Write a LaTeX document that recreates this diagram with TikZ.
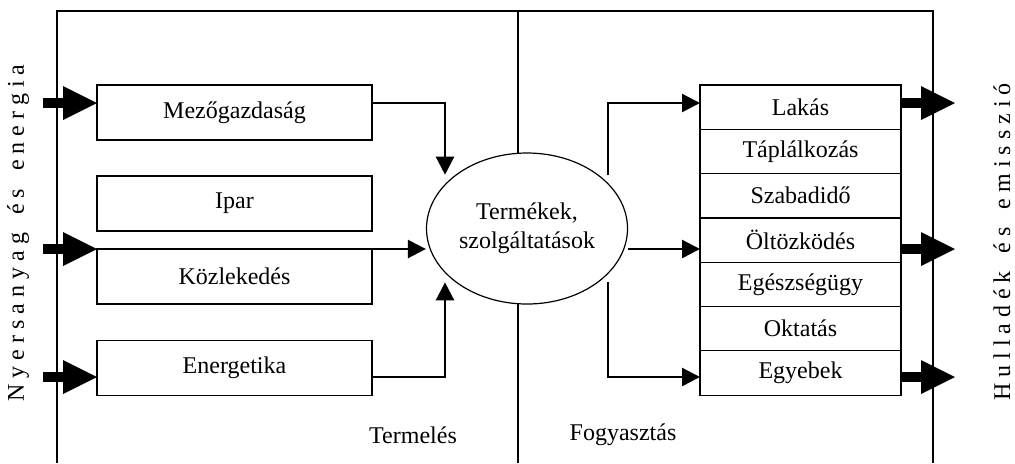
\documentclass[tikz,border=0pt]{standalone}
\usepackage{fontspec}
\setmainfont{Liberation Serif}
\newfontfamily\spacedfont[LetterSpace=25,WordSpace=1.5]{Liberation Serif}
\usetikzlibrary{positioning,arrows.meta,shapes.geometric}

\begin{document}
\begin{tikzpicture}[
    x=0.5pt, y=-0.5pt,
    font=\fontsize{12}{14.5}\selectfont,
    sector/.style={draw, line width=0.6pt, outer sep=0pt, inner sep=0pt, minimum width=137.5pt, minimum height=27.5pt},
    need/.style={draw, line width=0.6pt, outer sep=0pt, inner sep=0pt, minimum width=100.5pt, minimum height=22.15pt},
    flow/.style={line width=1.2pt, -{Triangle[length=9pt,width=9pt]}},
    bulk/.style={line width=5pt, -{Triangle[length=17pt,width=17pt,line width=0pt]}},
    side/.style={rotate=90, font=\fontsize{12}{14.5}\spacedfont}
]
\useasboundingbox (0,0) rectangle (1015,463);

% frame and divider
\draw[line width=0.7pt] (57,463) |- (933,11) -- (933,463);
\draw[line width=0.6pt] (518,11) -- (518,463);

% flow levels and lanes
\coordinate (r1) at (0,103);
\coordinate (r2) at (0,249);
\coordinate (r3) at (0,377);
\coordinate (src) at (43,0);
\coordinate (snk) at (955,0);
\coordinate (c1) at (445,0);
\coordinate (c2) at (608,0);

% production side
\node[sector] (mezo)  at (234.5,112.5) {Mezőgazdaság};
\node[sector] (ipar)  at (234.5,203.5) {Ipar};
\node[sector] (kozl)  at (234.5,276.5) {Közlekedés};
\node[sector] (energ) at (234.5,368)   {Energetika};

\node[draw, ellipse, fill=white, line width=0.6pt, inner sep=0pt,
      minimum width=100.5pt, minimum height=75.5pt, align=center]
      (prod) at (527,228.5) {Termékek,\\szolgáltatások};

% consumption side
\node[need] (lakas) at (800.5,107.15) {Lakás};
\node[need, below=0pt of lakas]  (taplal) {Táplálkozás};
\node[need, below=0pt of taplal] (szabad) {Szabadidő};
\node[need, below=0pt of szabad] (oltoz)  {Öltözködés};
\node[need, below=0pt of oltoz]  (egesz)  {Egészségügy};
\node[need, below=0pt of egesz]  (oktat)  {Oktatás};
\node[need, below=0pt of oktat]  (egyeb)  {Egyebek};

% inputs
\draw[bulk] (src |- r1) -- (mezo.west |- r1);
\draw[bulk] (src |- r2) -- (kozl.west |- r2);
\draw[bulk] (src |- r3) -- (energ.west |- r3);

% into products
\draw[flow] (mezo.east |- r1) -| (c1 |- prod.north west);
\draw[flow] (kozl.east |- r2) -- (prod.west |- r2);
\draw[flow] (energ.east |- r3) -| (c1 |- prod.south west);

% out of products
\draw[flow] (c2 |- prod.north east) |- (lakas.west |- r1);
\draw[flow] (prod.east |- r2) -- (oltoz.west |- r2);
\draw[flow] (c2 |- prod.south east) |- (egyeb.west |- r3);

% outputs
\draw[bulk] (lakas.east |- r1) -- (snk |- r1);
\draw[bulk] (oltoz.east |- r2) -- (snk |- r2);
\draw[bulk] (egyeb.east |- r3) -- (snk |- r3);

% labels
\node (termel) at (413,435) {Termelés};
\node (fogy)   at (623,435) {Fogyasztás};
\node[side] (nyers) at (18,233)   {Nyersanyag és energia};
\node[side] (hull)  at (1002,242) {Hulladék és emisszió};

\end{tikzpicture}
\end{document}
